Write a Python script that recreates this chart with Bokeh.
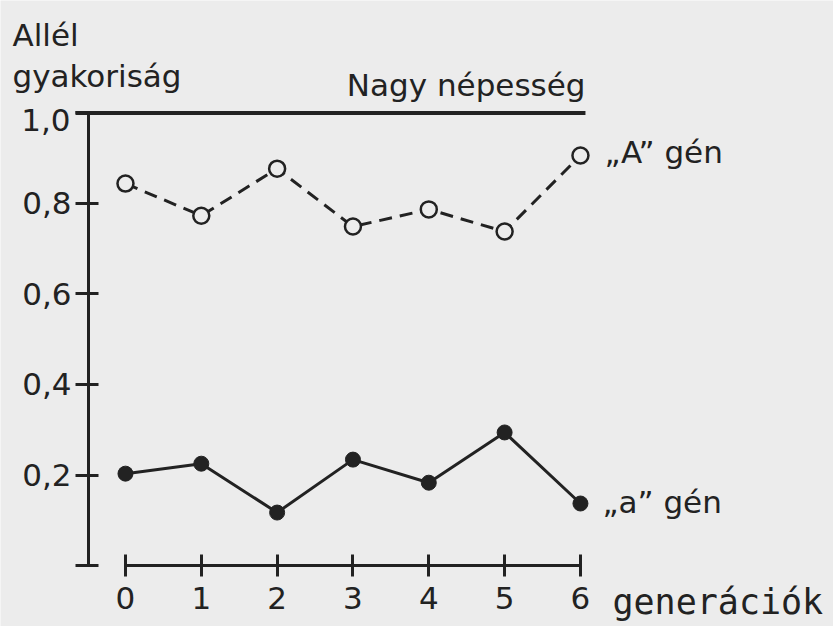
from bokeh.plotting import figure
from bokeh.models import Range1d, FixedTicker, CustomJSTickFormatter, Label
from bokeh.embed import file_html
from bokeh.resources import INLINE

# ---- data ----
generations = [0, 1, 2, 3, 4, 5, 6]
gene_A = [0.844, 0.773, 0.877, 0.749, 0.787, 0.738, 0.906]
gene_a = [0.203, 0.225, 0.117, 0.234, 0.183, 0.294, 0.137]
y_ticks = [0.0, 0.2, 0.4, 0.6, 0.8, 1.0]
top_tick_label = "1,0"

title_lines = ["Allél", "gyakoriság"]
panel_title = "Nagy népesség"
label_A = "„A” gén"
label_a = "„a” gén"
x_title = "generációk"

INK = "#222222"
BG = "#ececec"
FONT = "DejaVu Sans"
FS = "31px"

Y_AXIS_X = -0.488   # where the vertical axis stands (in generation units)

p = figure(width=833, height=626,
           x_range=Range1d(-1.648, 9.337), y_range=Range1d(-0.1348, 1.2486),
           output_backend="svg", toolbar_location=None,
           min_border_left=0, min_border_right=0, min_border_top=0,
           min_border_bottom=0)
p.outline_line_color = None
p.grid.visible = False
p.background_fill_color = BG
p.border_fill_color = BG

# x axis
xa = p.xaxis[0]
xa.fixed_location = 0
xa.bounds = (generations[0], generations[-1])
xa.ticker = FixedTicker(ticks=generations)
xa.axis_line_width = 3
xa.axis_line_color = INK
xa.major_tick_line_width = 3
xa.major_tick_line_color = INK
xa.major_tick_in = 11
xa.major_tick_out = 11
xa.minor_tick_line_color = None
xa.major_label_standoff = 10
xa.major_label_text_font = FONT
xa.major_label_text_font_size = FS
xa.major_label_text_color = INK

# y axis
ya = p.yaxis[0]
ya.fixed_location = Y_AXIS_X
ya.bounds = (0, 1)
ya.ticker = FixedTicker(ticks=y_ticks)
ya.formatter = CustomJSTickFormatter(
    code="return (tick < 0.05 || tick > 0.95) ? '' : tick.toFixed(1).replace('.', ',');")
ya.axis_line_width = 3
ya.axis_line_color = INK
ya.major_tick_line_width = 3
ya.major_tick_line_color = INK
ya.major_tick_in = 10
ya.major_tick_out = 13
ya.minor_tick_line_color = None
ya.major_label_standoff = 4
ya.major_label_text_font = FONT
ya.major_label_text_font_size = FS
ya.major_label_text_color = INK

# top rule at 1.0
p.segment(x0=[-0.659], y0=[1.0], x1=[6.066], y1=[1.0],
          line_width=4, line_color=INK)

# series
p.line(generations, gene_A, line_width=3, line_color=INK, line_dash="13 8")
p.scatter(generations, gene_A, size=16, marker="circle",
          line_width=2.5, line_color=INK, fill_color=BG)

p.line(generations, gene_a, line_width=3, line_color=INK)
p.scatter(generations, gene_a, size=15, marker="circle",
          line_width=1, line_color=INK, fill_color=INK)

def lab(text, x, y, xo, yo, align="left", font=FONT, size=FS):
    p.add_layout(Label(x=x, y=y, x_offset=xo, y_offset=yo, text=text,
                       text_font=font, text_font_size=size, text_color=INK,
                       text_align=align, text_baseline="alphabetic"))

lab(top_tick_label, Y_AXIS_X, y_ticks[-1], -18, -7, "right")
lab(title_lines[0], Y_AXIS_X, 1.0, -76, 78)
lab(title_lines[1], Y_AXIS_X, 1.0, -76, 37)
lab(panel_title, generations[-1], 1.0, 5, 28, "right")
lab(label_A, generations[-1], gene_A[-1], 24, 4)
lab(label_a, generations[-1], gene_a[-1], 22, 2)
lab(x_title, generations[-1], 0, 32, -36, font="DejaVu Sans Mono", size="35px")

open("out.html", "w").write(file_html(p, INLINE))
